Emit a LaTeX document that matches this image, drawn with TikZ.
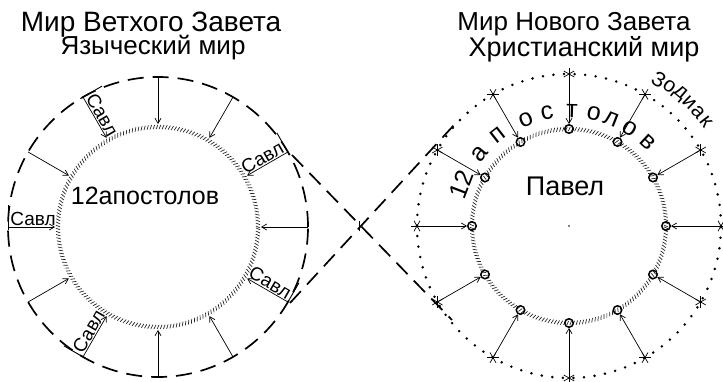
\documentclass[tikz,border=0pt]{standalone}
\usepackage{fontspec}
\setmainfont{Liberation Sans}
\usetikzlibrary{arrows.meta,decorations.markings}

\tikzset{
  hatch/.style={decoration={markings, mark=between positions 0 and 1 step 3.1pt with {\draw[line width=0.7pt, black!85] (-0.9pt,-2.1pt) -- (0.9pt,2.1pt);}}, decorate},
  dashline/.style={line width=1.7pt, dash pattern=on 16pt off 9pt},
  dotline/.style={line width=2.8pt, line cap=round, dash pattern=on 0pt off 10.6pt},
  arr/.style={line width=0.7pt, -{Straight Barb[length=5pt,width=6pt]}},
  smallc/.style={circle, draw, line width=1.5pt, minimum size=8.5pt, inner sep=0pt},
  titletxt/.style={inner sep=0pt},
  savl/.style={font=\fontsize{19}{20}\selectfont, inner sep=1pt, anchor=south},
  astline/.style={line width=0.7pt},
  arcletter/.style={font=\fontsize{25}{26}\selectfont, inner sep=0pt},
  zodletter/.style={font=\fontsize{21}{22}\selectfont, inner sep=0pt},
}

\begin{document}
\begin{tikzpicture}[x=1pt,y=1pt]
\useasboundingbox (0,0) rectangle (723,381);

% titles
\node[titletxt, font=\fontsize{28}{30}\selectfont] (t1) at (151,356) {Мир Ветхого Завета};
\node[titletxt, font=\fontsize{26}{30}\selectfont] (t2) at (153,333) {Языческий мир};
\node[titletxt, font=\fontsize{26}{30}\selectfont] (t3) at (574,357) {Мир Нового Завета};
\node[titletxt, font=\fontsize{27}{30}\selectfont] (t4) at (584,332) {Христианский мир};

% ---------- left world ----------
\coordinate (L) at (158,154);
\draw[dashline] (L) circle (150);
\path[hatch] (L) circle (100);
\node[font=\fontsize{25}{26}\selectfont, inner sep=0pt] (apL) at (145,185) {12апостолов};

\foreach \a in {0,30,...,330} {
  \coordinate (Lo\a) at ([shift={(\a:150)}]L);
  \coordinate (Li\a) at ([shift={(\a:103)}]L);
  \draw[arr] (Lo\a) -- (Li\a);
}
\foreach \a/\r in {30/30, 120/-60, 180/0, 240/60, 330/-30} {
  \node[savl, rotate=\r] (S\a) at ([shift={(\a:125)}]L) {Савл};
  \draw[line width=0.9pt] ([shift={(\r+90:-3)}]Lo\a) -- ([shift={(\r+90:22)}]Lo\a);
}

% ---------- crossing dashed lines ----------
\coordinate (A1) at (292,226);
\coordinate (A2) at (452,61);
\coordinate (B1) at (290,78);
\coordinate (B2) at (454,256);
\draw[dashline] (A1) -- (A2);
\draw[dashline] (B1) -- (B2);
\coordinate (X) at (359,155);
\draw[line width=0.9pt] ([yshift=-5]X) -- ([yshift=5]X);

% ---------- right world ----------
\coordinate (R) at (569,155);
\draw[dotline] (R) circle (152);
\path[hatch] (R) circle (97);
\fill (R) circle (0.8);
\node[font=\fontsize{27}{28}\selectfont, inner sep=0pt] (pav) at (565,195) {Павел};

\foreach \a in {0,30,...,330} {
  \node[smallc] (c\a) at ([shift={(\a:97)}]R) {};
  \coordinate (s\a) at ([shift={(\a:152)}]R);
  \foreach \b in {0,60,120} {
    \draw[astline] ([shift={(\a+\b:6)}]s\a) -- ([shift={(\a+\b+180:6)}]s\a);
  }
  \draw[arr] (s\a) -- (c\a);
}

% curved "12 апостолов"
\foreach \t/\a [count=\i] in {12/159, а/141, п/128, о/112, с/101, т/88.5, о/77.5, л/68.5, о/58, в/47} {
  \node[arcletter, rotate=\a-90] (ap\i) at ([shift={(\a:115)}]R) {\t};
}
% "Зодиак"
\foreach \t/\a [count=\i] in {З/58.5, о/54.3, д/50, и/45.7, а/41.5, к/37.3} {
  \node[zodletter, rotate=\a-90] (z\i) at ([shift={(\a:172)}]R) {\t};
}
\end{tikzpicture}
\end{document}
